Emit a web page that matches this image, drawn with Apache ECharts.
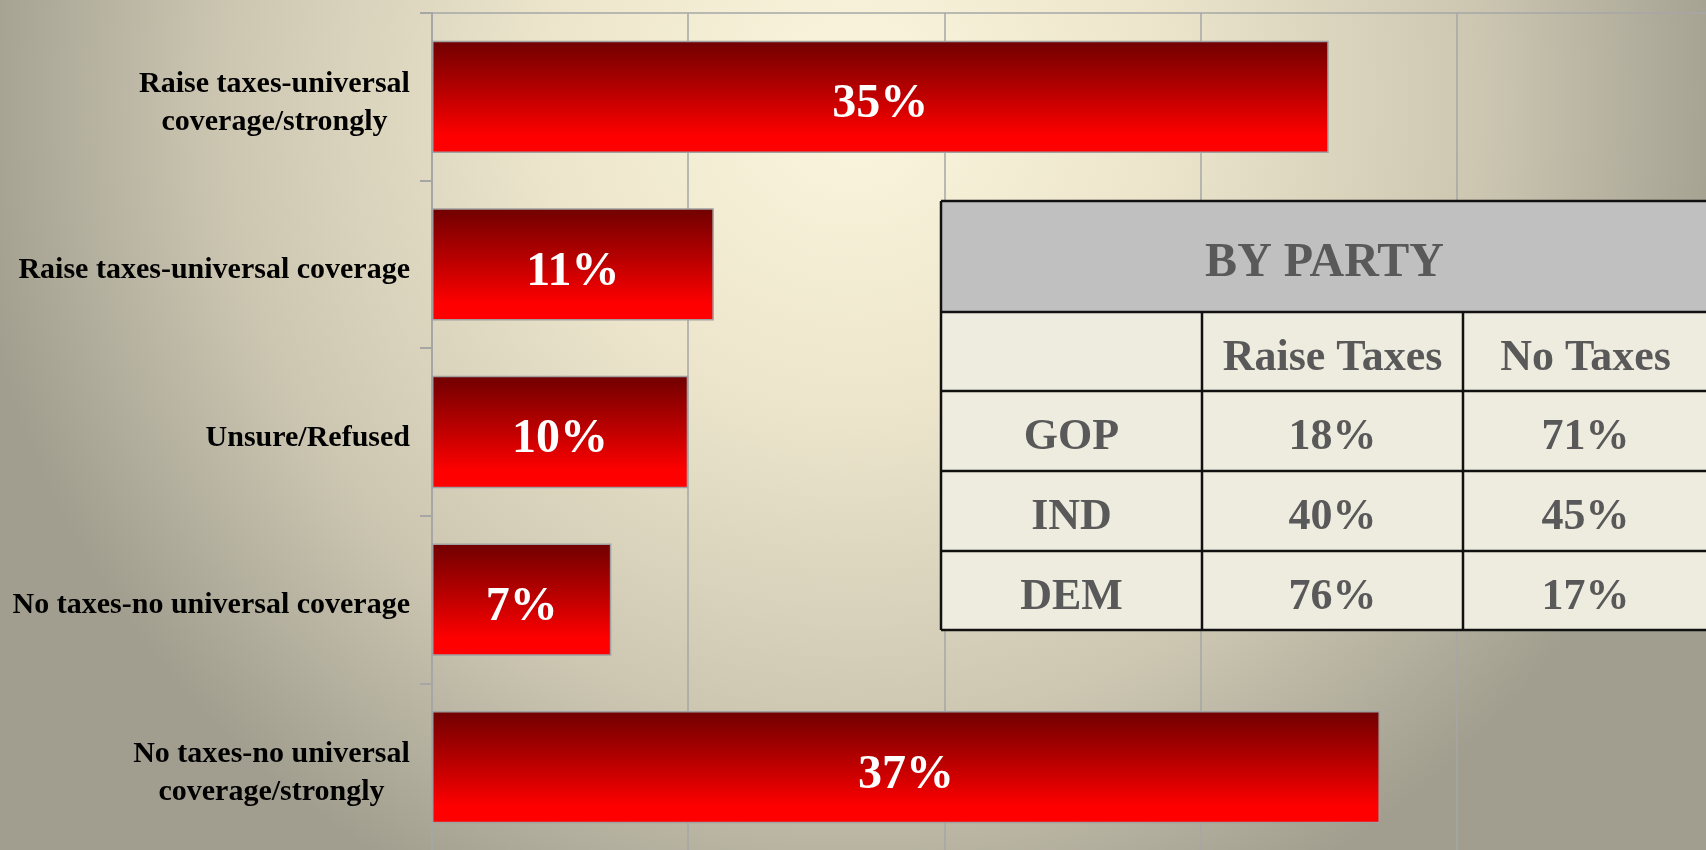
<!DOCTYPE html>
<html>
<head>
<meta charset="utf-8">
<style>
  html, body { margin: 0; padding: 0; }
  #chart { width: 1706px; height: 850px; }
</style>
<script src="https://cdn.jsdelivr.net/npm/echarts@6/dist/echarts.min.js"></script>
</head>
<body>
<div id="chart"></div>
<script>
// chart data
const categories = [
  'Raise taxes-universal\ncoverage/strongly',
  'Raise taxes-universal coverage',
  'Unsure/Refused',
  'No taxes-no universal coverage',
  'No taxes-no universal\ncoverage/strongly'
]
const shares = [35, 11, 10, 7, 37]

// inset table data
const tableTitle = 'BY PARTY'
const tableColumns = ['', 'Raise Taxes', 'No Taxes']
const parties = ['GOP', 'IND', 'DEM']
const raiseTaxes = [18, 40, 76]
const noTaxes = [71, 45, 17]

const serif = '"Liberation Serif", "Times New Roman", serif'
const labelFont = 'bold 30px ' + serif

// measure text so two-line labels get centred lines inside a right-aligned block
const ctx = document.createElement('canvas').getContext('2d')
function textWidth(t) {
  ctx.font = labelFont
  return ctx.measureText(t).width
}

const rich = {}
categories.forEach((c, i) => {
  const lines = c.split('\n')
  const w = Math.ceil(Math.max(...lines.map(textWidth)))
  rich['l' + i] = {
    width: w,
    align: 'center',
    fontSize: 30,
    fontWeight: 'bold',
    fontFamily: serif,
    color: '#000',
    lineHeight: 38
  }
})

function buildTable() {
  const colX = [941, 1202, 1463, 1708]
  const rowY = [201, 312, 391, 471, 551, 630]
  const els = []
  const cellFill = '#eeebdf'
  // header background
  els.push({
    type: 'rect', z: 100,
    shape: { x: colX[0], y: rowY[0], width: colX[3] - colX[0], height: rowY[1] - rowY[0] },
    style: { fill: '#c0c0c0' }
  })
  els.push({
    type: 'rect', z: 100,
    shape: { x: colX[0], y: rowY[1], width: colX[3] - colX[0], height: rowY[5] - rowY[1] },
    style: { fill: cellFill }
  })
  els.push({
    type: 'text', z: 102,
    style: {
      text: tableTitle, x: (colX[0] + colX[3]) / 2, y: (rowY[0] + rowY[1]) / 2 + 7,
      font: 'bold 48px ' + serif, fill: '#595959', align: 'center', verticalAlign: 'middle'
    }
  })
  const rows = [tableColumns].concat(parties.map((p, i) => [p, raiseTaxes[i] + '%', noTaxes[i] + '%']))
  rows.forEach((r, ri) => {
    r.forEach((t, ci) => {
      if (!t) return
      els.push({
        type: 'text', z: 102,
        style: {
          text: t,
          x: (colX[ci] + colX[ci + 1]) / 2,
          y: (rowY[ri + 1] + rowY[ri + 2]) / 2 + 7,
          font: 'bold 44px ' + serif, fill: '#595959', align: 'center', verticalAlign: 'middle'
        }
      })
    })
  })
  const line = { stroke: '#111', lineWidth: 2.5 }
  rowY.forEach(y => {
    els.push({ type: 'line', z: 103, shape: { x1: colX[0], y1: y, x2: colX[3] + 5, y2: y }, style: line })
  })
  els.push({ type: 'line', z: 103, shape: { x1: colX[0], y1: rowY[0], x2: colX[0], y2: rowY[5] }, style: line })
  els.push({ type: 'line', z: 103, shape: { x1: colX[1], y1: rowY[1], x2: colX[1], y2: rowY[5] }, style: line })
  els.push({ type: 'line', z: 103, shape: { x1: colX[2], y1: rowY[1], x2: colX[2], y2: rowY[5] }, style: line })
  return els
}

const chart = echarts.init(document.getElementById('chart'))
chart.setOption({
  animation: false,
  backgroundColor: new echarts.graphic.RadialGradient(0.5, 0.12, 1.05, [
    { offset: 0, color: '#fcf6de' },
    { offset: 0.35, color: '#ece5cc' },
    { offset: 0.7, color: '#cdc7b2' },
    { offset: 1, color: '#a19e8f' }
  ]),
  grid: {
    left: 432,
    top: 13,
    width: 1281,
    height: 838,
    outerBoundsMode: 'none',
    containLabel: false
  },
  xAxis: {
    type: 'value',
    position: 'top',
    min: 0,
    max: 50,
    interval: 10,
    axisLine: { show: true, lineStyle: { color: '#a6a6a6', width: 1.5 } },
    axisTick: { show: false },
    axisLabel: { show: false },
    splitLine: { show: true, lineStyle: { color: '#a6a6a6', width: 1.5 } }
  },
  yAxis: {
    type: 'category',
    inverse: true,
    data: categories,
    axisLine: { show: true, lineStyle: { color: '#a6a6a6', width: 2 } },
    axisTick: { show: true, length: 12, lineStyle: { color: '#a6a6a6', width: 2 } },
    axisLabel: {
      margin: 22,
      padding: [12, 0, 0, 0],
      fontSize: 30,
      fontWeight: 'bold',
      fontFamily: serif,
      color: '#000',
      lineHeight: 38,
      formatter: (v, i) => v.indexOf('\n') < 0 ? v : v.split('\n').map(l => '{l' + i + '|' + l + '}').join('\n'),
      rich: rich
    }
  },
  series: [{
    type: 'bar',
    data: shares,
    barCategoryGap: '33%',
    itemStyle: {
      color: new echarts.graphic.LinearGradient(0, 0, 0, 1, [
        { offset: 0, color: '#700000' },
        { offset: 0.45, color: '#b80000' },
        { offset: 0.85, color: '#ff0000' },
        { offset: 1, color: '#ff0000' }
      ]),
      borderColor: '#a0a0a0',
      borderWidth: 1.5
    },
    label: {
      show: true,
      position: 'inside',
      offset: [0, 8],
      formatter: '{c}%',
      color: '#fff',
      fontSize: 48,
      fontWeight: 'bold',
      fontFamily: serif
    }
  }],
  graphic: buildTable()
})
</script>
</body>
</html>
